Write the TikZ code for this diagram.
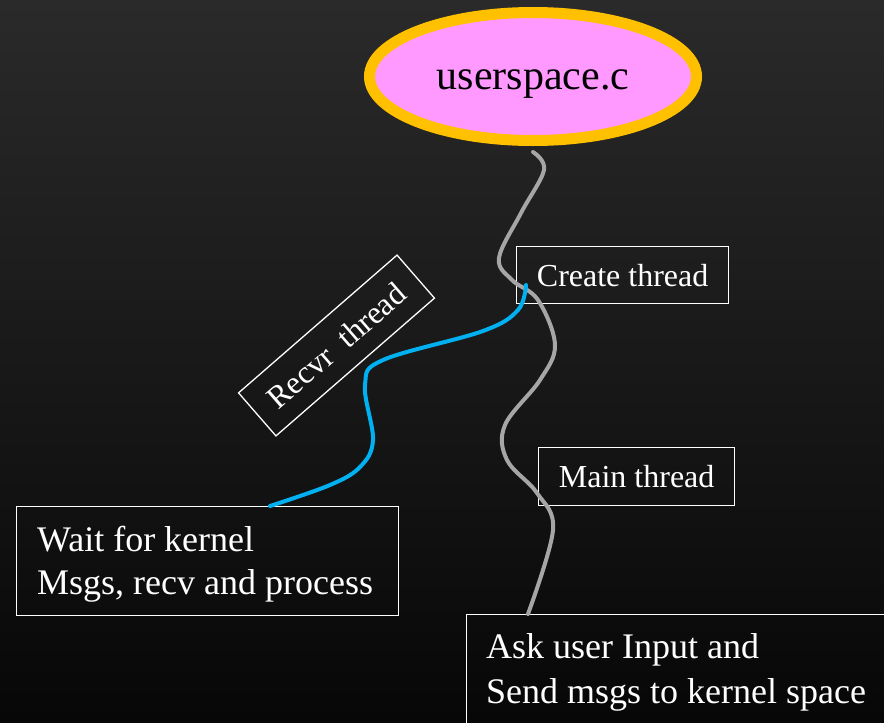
\documentclass[tikz,border=0pt]{standalone}
\usepackage{fontspec}
\setmainfont{Liberation Serif}
\usetikzlibrary{shapes.geometric}
\definecolor{bgtop}{HTML}{2A2A2A}
\definecolor{bgbot}{HTML}{070707}
\definecolor{ellfill}{HTML}{FF99FF}
\definecolor{ellline}{HTML}{FFC000}
\definecolor{mainline}{HTML}{A6A6A6}
\definecolor{recvline}{HTML}{00B0F0}
\tikzset{
  box/.style={draw=white, line width=1.3pt, text=white, inner sep=0pt},
  boxtext/.style={text=white, inner sep=0pt, anchor=north west, align=left},
  thread/.style={line width=4pt, line cap=round},
}
\begin{document}
\begin{tikzpicture}[x=1pt, y=-1pt]
  % page and background
  \useasboundingbox (0,0) rectangle (884,723);
  \clip (0,0) rectangle (884,723);
  \shade[top color=bgtop, bottom color=bgbot] (0,0) rectangle (884,723);

  % program
  \node[ellipse, fill=ellfill, draw=ellline, line width=11pt, inner sep=0pt,
        minimum width=327, minimum height=128,
        font=\fontsize{42}{50}\selectfont] (prog) at (533,76.5)
        {\smash{\raisebox{-13pt}{userspace.c}}};

  % labels
  \node[box, minimum width=212, minimum height=57, anchor=north west,
        font=\fontsize{32}{38}\selectfont] (create) at (516,246) {Create thread};
  \node[box, minimum width=196, minimum height=58, anchor=north west,
        font=\fontsize{32}{38}\selectfont] (mainlbl) at (538,447) {Main thread};
  \node[box, rotate=41, minimum width=210, minimum height=57,
        font=\fontsize{32}{38}\selectfont] (recvlbl) at (336.5,345.5) {Recvr~~thread};

  % task boxes
  \node[box, minimum width=382, minimum height=109, anchor=north west] (wait) at (16,506) {};
  \node[boxtext, font=\fontsize{36}{43}\selectfont] (waittxt) at (37,526)
        {Wait for kernel\\Msgs, recv and process};
  \node[box, minimum width=460, minimum height=130, anchor=north west] (ask) at (466,614) {};
  \node[boxtext, font=\fontsize{36}{45}\selectfont] (asktxt) at (486,633)
        {Ask user Input and\\Send msgs to kernel space};

  % thread paths
  \coordinate (fork) at (526,285);
  \draw[thread, mainline] plot[smooth, tension=0.6] coordinates {
    ([yshift=-6pt]prog.south) (544,170) (521,213) (499,258) (512,280)
    (538,300) (555,345) (540,380) (505,425) (507,460) (537,493) (553,530)
    ([xshift=62pt]ask.north west)};
  \draw[thread, recvline] plot[smooth, tension=0.6] coordinates {
    (fork) (518,310) (483,331) (383,360) (365,385) (373,440) (360,467)
    (330,485) ([xshift=254pt]wait.north west)};
\end{tikzpicture}
\end{document}
